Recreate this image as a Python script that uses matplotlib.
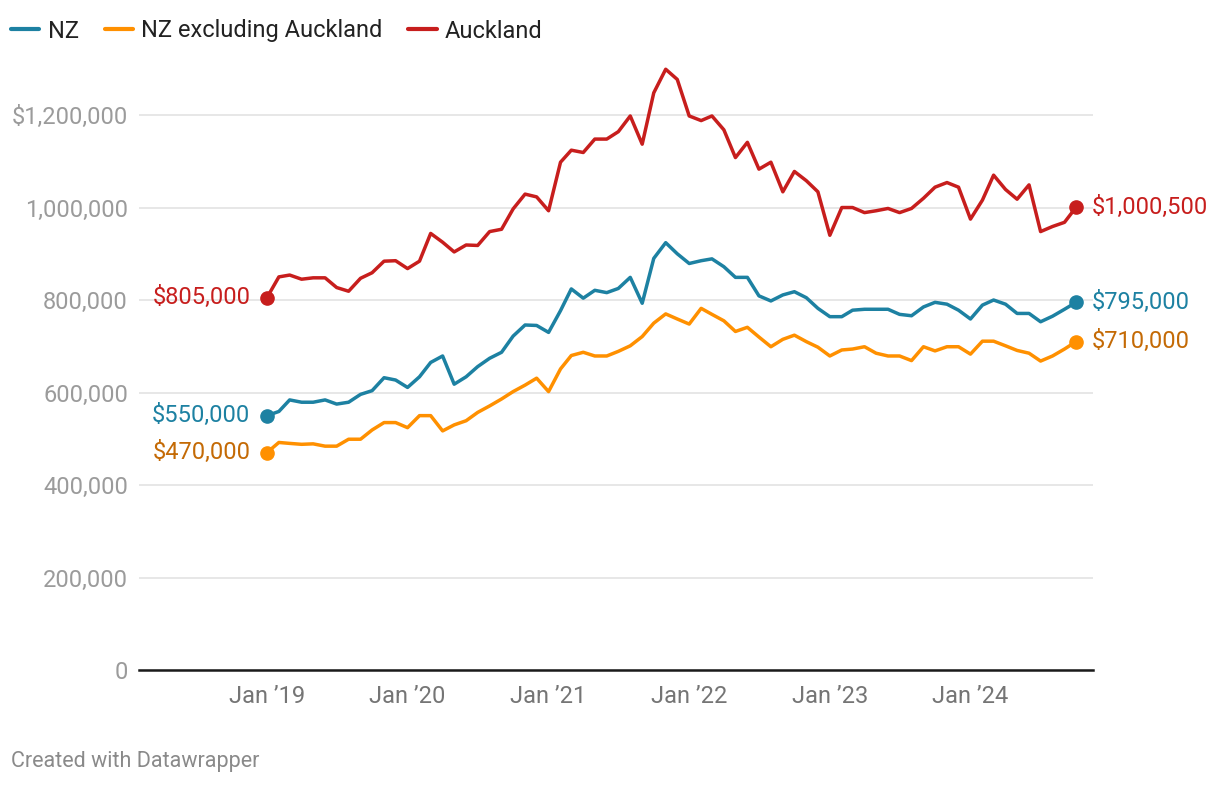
import numpy as np
import pandas as pd
import matplotlib
matplotlib.use('Agg')
import matplotlib.pyplot as plt

plt.rcParams['font.family'] = ['Roboto', 'DejaVu Sans']

# monthly median prices (thousand $), Jan 2019 - Oct 2024
months = pd.date_range('2019-01-01', periods=70, freq='MS')

nz = [550, 559, 584, 579, 579, 584, 575, 579, 596, 604, 632, 627,
      611, 634, 665, 679, 618, 634, 656, 674, 687, 722, 746, 745,
      730, 777, 824, 804, 821, 816, 825, 849, 793, 890, 924, 900,
      879, 885, 889, 872, 849, 849, 809, 798, 811, 818, 805, 782,
      764, 764, 778, 780, 780, 780, 769, 766, 785, 795, 791, 778,
      759, 789, 800, 791, 771, 771, 753, 765, 780, 795]
nz_ex_akl = [470, 492, 490, 488, 489, 484, 484, 499, 499, 519, 535, 535,
             524, 550, 550, 517, 530, 539, 557, 571, 586, 602, 616, 631,
             602, 651, 680, 687, 679, 679, 689, 701, 721, 750, 770, 759,
             748, 782, 769, 755, 732, 741, 720, 699, 715, 724, 710, 698,
             679, 692, 694, 699, 685, 679, 679, 669, 699, 690, 699, 699,
             683, 711, 711, 701, 691, 685, 668, 679, 694, 710]
auckland = [805, 850, 854, 845, 848, 848, 827, 819, 847, 859, 884, 885,
            868, 884, 944, 925, 904, 919, 918, 948, 953, 997, 1029, 1023,
            993, 1098, 1124, 1119, 1148, 1148, 1164, 1198, 1137, 1248, 1299, 1277,
            1198, 1188, 1198, 1168, 1108, 1141, 1083, 1098, 1034, 1078, 1058, 1034,
            940, 1000, 1000, 989, 993, 998, 989, 998, 1020, 1044, 1054, 1044,
            975, 1016, 1070, 1039, 1018, 1049, 948, 959, 968, 1000.5]

series_names = ['NZ', 'NZ excluding Auckland', 'Auckland']
series_vals = [nz, nz_ex_akl, auckland]
line_colors = ['#1d81a2', '#ff9000', '#c71e1d']
label_colors = ['#1d81a2', '#c46a05', '#c71e1d']

y_ticks = [0, 200000, 400000, 600000, 800000, 1000000, 1200000]
y_ticklabels = ['0', '200,000', '400,000', '600,000', '800,000', '1,000,000', '$1,200,000']
x_ticks = pd.date_range('2019-01-01', '2024-01-01', freq='YS')
x_ticklabels = ['Jan \u201919', 'Jan \u201920', 'Jan \u201921', 'Jan \u201922', 'Jan \u201923', 'Jan \u201924']

fs = 17

fig = plt.figure(figsize=(12.2, 7.86), dpi=100)
ax = fig.add_axes([139 / 1220, 1 - 670 / 786, (1093 - 139) / 1220, (670 - 60) / 786])

for name, vals, c, lc in zip(series_names, series_vals, line_colors, label_colors):
    v = np.array(vals) * 1000
    ax.plot(months, v, color=c, lw=2.5, label=name, solid_joinstyle='round', zorder=3)
    ax.plot([months[0], months[-1]], [v[0], v[-1]], 'o', color=c, ms=9.5, zorder=4)
    ax.annotate('${:,.0f}'.format(v[0]), (months[0], v[0]), xytext=(-12, 0),
                textcoords='offset points', ha='right', va='center',
                fontsize=fs, color=lc)
    ax.annotate('${:,.0f}'.format(v[-1]), (months[-1], v[-1]), xytext=(11, 0),
                textcoords='offset points', ha='left', va='center',
                fontsize=fs, color=lc)

ax.set_xlim(pd.Timestamp('2018-02-03'), pd.Timestamp('2024-11-14'))
ax.set_ylim(0, 1319000)
ax.set_yticks(y_ticks)
ax.set_yticklabels(y_ticklabels)
ax.set_xticks(x_ticks)
ax.set_xticklabels(x_ticklabels)
ax.grid(axis='y', color='#e3e3e3', lw=1.2, zorder=0)
ax.set_axisbelow(True)
for s in ['top', 'right', 'left']:
    ax.spines[s].set_visible(False)
ax.spines['bottom'].set_color('#1a1a1a')
ax.spines['bottom'].set_linewidth(1.8)
ax.spines['bottom'].set_zorder(5)
ax.tick_params(axis='y', length=0, pad=8, labelsize=fs, labelcolor='#9b9b9b')
ax.tick_params(axis='x', length=0, pad=11, labelsize=fs, labelcolor='#757575')

leg = fig.legend(loc='center left', bbox_to_anchor=(0.009, 1 - 31 / 786), ncol=3,
                 frameon=False, fontsize=fs, handlelength=1.2, handletextpad=0.35,
                 columnspacing=1.1, borderaxespad=0, borderpad=0)
for t in leg.get_texts():
    t.set_color('#222222')
for h in leg.get_lines():
    h.set_linewidth(3)
    h.set_solid_capstyle('round')

fig.text(11 / 1220, 1 - 762 / 786, 'Created with Datawrapper', fontsize=15.5,
         color='#8a8a8a', va='center', ha='left')

fig.savefig('out.png', dpi=100)
